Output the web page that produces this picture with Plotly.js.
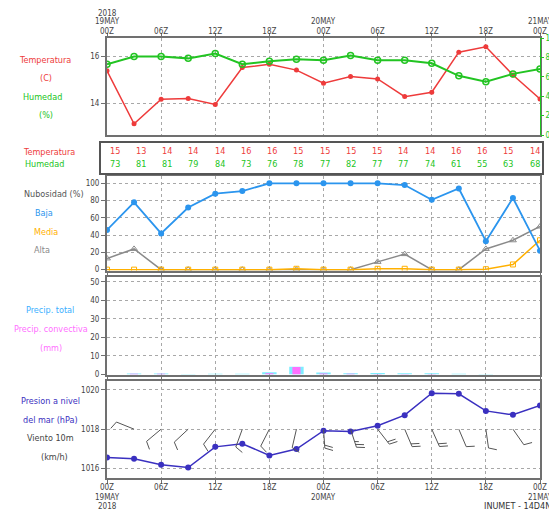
<!DOCTYPE html>
<html><head><meta charset="utf-8">
<script src="https://cdn.plot.ly/plotly-3.0.1.min.js"></script>
<style>html,body{margin:0;padding:0;background:#fff;overflow:hidden}#chart{width:549px;height:510px}</style>
</head><body><div id="chart"></div>
<script>
// ---- data ----
const hours = [0,3,6,9,12,15,18,21,24,27,30,33,36,39,42,45,48];
const temperature = [15.39,13.11,14.17,14.20,13.94,15.53,15.67,15.42,14.86,15.14,15.04,14.28,14.47,16.19,16.42,15.21,14.18];
const humidity = [73,81,81,79,84,73,76,78,77,82,77,77,74,61,55,63,68];
const tableTemp = [15,13,14,14,14,16,16,15,15,15,15,14,14,16,16,15,14];
const tableHum = [73,81,81,79,84,73,76,78,77,82,77,77,74,61,55,63,68];
const cloudLow = [46,78,42,72,88,91,100,100,100,100,100,98,81,94,33,83,22];
const cloudMid = [0,0,0,0,0,0,0,1,0,0,1,1,0,0,0.5,6,34];
const cloudHigh = [13,24,0,0,0,0,0,0,0,0,9,18,0,0,24,34,50];
const precipTotal = [0,0.5,0.5,0.2,0.3,0.4,1.2,4.1,1.0,0.6,0.7,0.6,0.6,0.3,0.2,0,0];
const precipConv = [0,0.3,0.3,0,0.1,0.1,0.6,4.0,0.5,0.3,0.2,0.2,0.2,0,0,0,0];
const pressure = [1016.56,1016.49,1016.19,1016.05,1017.10,1017.26,1016.66,1016.99,1017.92,1017.88,1018.17,1018.71,1019.83,1019.80,1018.93,1018.73,1019.20];
const windDir = [null,292,230,227,218,200,207,193,176,162,142,157,156,157,172,145,null];
const windSpeed = [null,10,10,10,10,10,10,10,20,25,20,20,20,10,10,10,null];
const tickHours = [0,6,12,18,24,30,36,42,48];
const hourText = ['00Z','06Z','12Z','18Z','00Z','06Z','12Z','18Z','00Z'];
const dayHours = [0,24,48];
const dayText = ['19MAY','20MAY','21MAY'];
const yearText = '2018';

// ---- styling / layout helpers ----
const W = 549, H = 510;
const px = x => x / W;
const py = y => 1 - y / H;
const FONT = 'Liberation Sans Narrow, DejaVu Sans Condensed, Liberation Sans, Arial';
const red = '#ee3b3b', green = '#22c422', blue = '#2b95ee', orange = '#ffb000', gray = '#8a8a8a';
const cyan = '#7eeeff', magenta = '#ff70ff', purple = '#3a30c0';
const frame = '#707070';
const xDom = [px(107), px(540)];

function xax(extra) {
  return Object.assign({
    domain: xDom, range: [0, 48], tickvals: tickHours, ticktext: hourText, showgrid: true,
    gridcolor: '#a8a8a8', griddash: 'dot', gridwidth: 1, zeroline: false,
    showline: true, mirror: true, linecolor: frame, linewidth: 2,
    ticks: 'outside', ticklen: 3, tickcolor: frame, showticklabels: false,
    ticklabeloverflow: 'allow', ticklabelstandoff: -4,
    tickfont: {family: FONT, size: 8, color: '#444'}
  }, extra);
}
function yax(extra) {
  return Object.assign({
    showgrid: true, gridcolor: '#a8a8a8', griddash: 'dot', gridwidth: 1, zeroline: false,
    showline: true, mirror: true, linecolor: frame, linewidth: 2,
    ticks: 'outside', ticklen: 4, tickcolor: frame,
    tickfont: {family: FONT, size: 8, color: '#444'}
  }, extra);
}

const traces = [
  {x: hours, y: temperature, xaxis: 'x', yaxis: 'y', type: 'scatter', mode: 'lines+markers',
   line: {color: red, width: 1.5}, marker: {color: red, size: 5, symbol: 'circle'}},
  {x: hours, y: humidity, xaxis: 'x', yaxis: 'y2', type: 'scatter', mode: 'lines+markers',
   line: {color: green, width: 2}, marker: {color: green, size: 6, symbol: 'circle-open', line: {width: 1.5, color: green}}},
  {x: hours, y: cloudHigh, xaxis: 'x2', yaxis: 'y3', type: 'scatter', mode: 'lines+markers',
   line: {color: gray, width: 1.5}, marker: {color: gray, size: 6, symbol: 'triangle-up-open', line: {width: 1, color: gray}}},
  {x: hours, y: cloudMid, xaxis: 'x2', yaxis: 'y3', type: 'scatter', mode: 'lines+markers',
   line: {color: orange, width: 1.5}, marker: {color: orange, size: 5, symbol: 'square-open', line: {width: 1, color: orange}}},
  {x: hours, y: cloudLow, xaxis: 'x2', yaxis: 'y3', type: 'scatter', mode: 'lines+markers',
   line: {color: blue, width: 1.8}, marker: {color: blue, size: 6, symbol: 'circle'}},
  {x: hours, y: precipTotal, xaxis: 'x3', yaxis: 'y4', type: 'bar', width: 1.6,
   marker: {color: cyan, line: {width: 0}}},
  {x: hours, y: precipConv, xaxis: 'x3', yaxis: 'y4', type: 'bar', width: 0.9,
   marker: {color: magenta, line: {width: 0}}},
  {x: hours, y: pressure, xaxis: 'x4', yaxis: 'y5', type: 'scatter', mode: 'lines+markers',
   line: {color: purple, width: 1.5}, marker: {color: purple, size: 6, symbol: 'circle'}}
];

// ---- wind barbs, anchored at each time on the 1018 hPa level, sized in pixels ----
const shapes = [];
const L = 19, F = 8.5, SP = 3, TILT = 20 * Math.PI / 180;
windDir.forEach((dir, i) => {
  if (dir === null) return;
  const t = dir * Math.PI / 180;
  const d = [Math.sin(t), -Math.cos(t)];          // screen coords, y down
  const f0 = [-Math.cos(t), -Math.sin(t)];
  const f = [Math.cos(TILT) * f0[0] + Math.sin(TILT) * d[0], Math.cos(TILT) * f0[1] + Math.sin(TILT) * d[1]];
  const P = (x, y) => x.toFixed(2) + ',' + (-y).toFixed(2); // convert to y-up pixel offsets
  let path = 'M0,0 L' + P(L * d[0], L * d[1]);
  let s = windSpeed[i], k = 0;
  while (s >= 10) {
    const b = [(L - k * SP) * d[0], (L - k * SP) * d[1]];
    path += ' M' + P(b[0], b[1]) + ' L' + P(b[0] + F * f[0], b[1] + F * f[1]);
    s -= 10; k++;
  }
  if (s >= 5) {
    const b = [(L - k * SP) * d[0], (L - k * SP) * d[1]];
    path += ' M' + P(b[0], b[1]) + ' L' + P(b[0] + F * 0.5 * f[0], b[1] + F * 0.5 * f[1]);
  }
  shapes.push({type: 'path', xref: 'x4', yref: 'y5', xsizemode: 'pixel', ysizemode: 'pixel',
    xanchor: hours[i], yanchor: 1018, path: path, line: {color: '#555', width: 1}});
});

// table box
shapes.push({type: 'rect', xref: 'paper', yref: 'paper', x0: px(100), x1: px(543), y0: py(174), y1: py(142),
  line: {color: '#555', width: 2}, fillcolor: 'rgba(0,0,0,0)'});

// ---- text ----
const ann = [];
function txt(text, x, y, color, size, anchor) {
  ann.push({text: text, xref: 'paper', yref: 'paper', x: px(x), y: py(y), showarrow: false,
    xanchor: anchor || 'center', yanchor: 'middle', font: {family: FONT, size: size || 9, color: color}});
}
function dateTxt(text, hour, y) {
  ann.push({text: text, xref: 'x', yref: 'paper', x: hour, y: py(y), showarrow: false,
    xanchor: 'center', yanchor: 'middle', font: {family: FONT, size: 8, color: '#444'}});
}
// date / year lines of the time axes
dayHours.forEach((h, j) => { dateTxt(dayText[j], h, 22); dateTxt(dayText[j], h, 497); });
dateTxt(yearText, 0, 13); dateTxt(yearText, 0, 506);

txt('Temperatura', 45, 60, red); txt('(C)', 46, 78, red);
txt('Humedad', 42, 97, green); txt('(%)', 46, 115, green);
txt('Temperatura', 49, 152, red); txt('Humedad', 44, 164, green);
tableTemp.forEach((v, j) => txt(String(v), 114.5 + j * 26.26, 151, red));
tableHum.forEach((v, j) => txt(String(v), 114.5 + j * 26.26, 164, green));
txt('Nubosidad (%)', 54, 194, '#555'); txt('Baja', 44, 213, blue);
txt('Media', 46, 232, orange); txt('Alta', 42, 250, gray);
txt('Precip. total', 50, 310, '#3ab0ff'); txt('Precip. convectiva', 51, 329, magenta); txt('(mm)', 51, 348, magenta);
txt('Presion a nivel', 50, 401, purple); txt('del mar (hPa)', 50, 420, purple);
txt('Viento 10m', 50, 438, '#444'); txt('(km/h)', 54, 457, '#444');
txt('INUMET - 14D4N', 482, 506, '#333', 9, 'left');

const layout = {
  width: W, height: H, margin: {l: 0, r: 0, t: 0, b: 0}, showlegend: false,
  paper_bgcolor: '#fff', plot_bgcolor: '#fff', barmode: 'overlay',
  xaxis: xax({anchor: 'y', side: 'top', showticklabels: true}),
  yaxis: yax({domain: [py(135), py(38)], range: [12.63, 16.8], tickvals: [14, 16]}),
  yaxis2: {overlaying: 'y', side: 'right', anchor: 'x', range: [0, 100], tickvals: [0, 20, 40, 60, 80, 100],
    showgrid: false, zeroline: false, showline: true, linecolor: green, linewidth: 1,
    ticks: 'outside', ticklen: 3, tickcolor: green, ticklabeloverflow: 'allow',
    tickfont: {family: FONT, size: 8, color: green}},
  xaxis2: xax({anchor: 'y3', matches: 'x'}),
  yaxis3: yax({domain: [py(270.5), py(176)], range: [-1, 108.5], tickvals: [0, 20, 40, 60, 80, 100]}),
  xaxis3: xax({anchor: 'y4', matches: 'x'}),
  yaxis4: yax({domain: [py(375.3), py(277.3)], range: [-0.5, 52.4], tickvals: [0, 10, 20, 30, 40, 50]}),
  xaxis4: xax({anchor: 'y5', matches: 'x', showticklabels: true, ticklen: 4}),
  yaxis5: yax({domain: [py(478.3), py(381)], range: [1015.5, 1020.45], tickvals: [1016, 1018, 1020]}),
  shapes: shapes, annotations: ann
};
Plotly.newPlot('chart', traces, layout, {staticPlot: true, displayModeBar: false});
</script></body></html>
